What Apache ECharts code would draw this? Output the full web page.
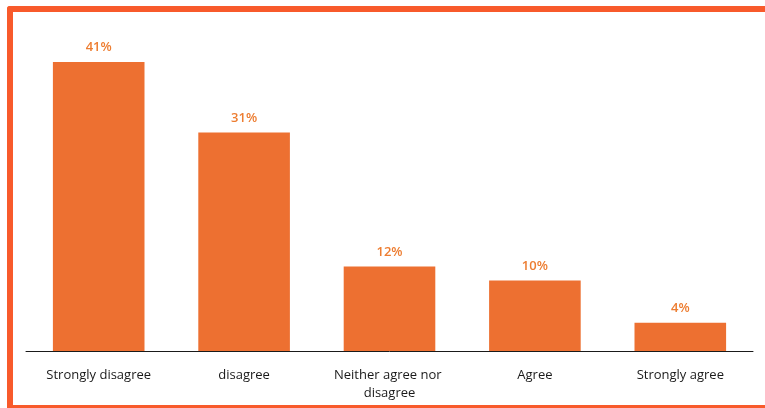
<!DOCTYPE html>
<html><head><meta charset="utf-8">
<script src="https://cdn.jsdelivr.net/npm/echarts@6/dist/echarts.min.js"></script>
<style>html,body{margin:0;padding:0;background:#fff}#c{width:765px;height:408px}</style>
</head><body><div id="c"></div>
<script>
const categories = ["Strongly disagree", "disagree", "Neither agree nor disagree", "Agree", "Strongly agree"];
const values = [41, 31, 12, 10, 4];

const chart = echarts.init(document.getElementById('c'), null, {renderer: 'canvas'});
chart.setOption({
  animation: false,
  backgroundColor: '#ffffff',
  grid: {left: 26, right: 12, top: 62, bottom: 57, containLabel: false},
  xAxis: {
    type: 'category',
    data: categories,
    axisLine: {lineStyle: {color: '#1a1a1a', width: 1}},
    axisTick: {show: false},
    axisLabel: {
      color: '#1a1a1a', fontFamily: 'Open Sans', fontSize: 13, margin: 15,
      lineHeight: 18, width: 130, overflow: 'break', interval: 0
    }
  },
  yAxis: {type: 'value', min: 0, max: 41, show: false, splitLine: {show: false}},
  series: [{
    type: 'bar',
    data: values,
    barWidth: '63%',
    itemStyle: {color: '#ED7031'},
    label: {
      show: true, position: 'top', distance: 8,
      formatter: p => p.value + '%',
      color: '#ED7D31', fontFamily: 'Open Sans', fontSize: 13, fontWeight: 600
    }
  }],
  graphic: [
    {type: 'rect', shape: {x: 7, y: 6, width: 770, height: 6, r: [3, 0, 0, 0]}, style: {fill: '#F85A2B'}},
    {type: 'rect', shape: {x: 7, y: 6, width: 6, height: 402, r: [3, 0, 0, 0]}, style: {fill: '#F85A2B'}},
    {type: 'rect', shape: {x: 7, y: 405, width: 770, height: 3}, style: {fill: '#F85A2B'}}
  ]
});
</script></body></html>
